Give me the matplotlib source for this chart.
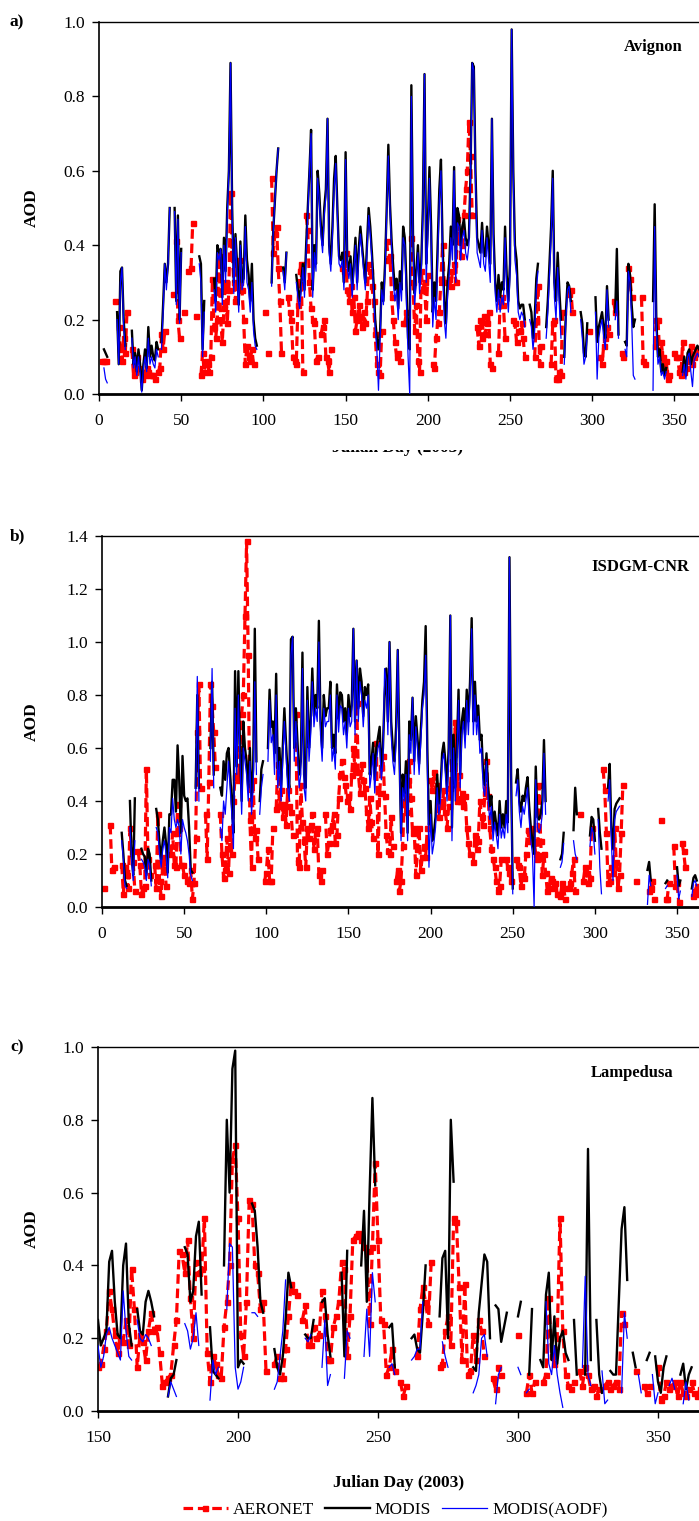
import numpy as np
import matplotlib
matplotlib.use("Agg")
import matplotlib.pyplot as plt
from matplotlib.lines import Line2D
from matplotlib.patches import Rectangle

# ---------------- DATA (start day, daily values) ----------------
avignon_aeronet = [
    (2, [0.09, 0.09, 0.09]), (10, [0.25]), (12, [0.18, 0.12, 0.09, 0.15, 0.11]), (17, [0.22]),
    (20, [0.12, 0.05, 0.06, 0.10, 0.07]), (26, [0.04, 0.06, 0.05, 0.07, 0.06, 0.05, 0.05, 0.05, 0.04]),
    (36, [0.06, 0.07, 0.16, 0.12, 0.17]), (45, [0.27]), (47, [0.41, 0.20, 0.15]), (52, [0.22]),
    (54, [0.33]), (56, [0.34, 0.46]), (59, [0.21]),
    (62, [0.05, 0.11, 0.06, 0.09, 0.08, 0.06, 0.10, 0.31, 0.18, 0.15]),
    (72, [0.20, 0.37, 0.20, 0.14, 0.23, 0.30, 0.19, 0.28, 0.54, 0.38, 0.30, 0.25]),
    (84, [0.35, 0.36, 0.30, 0.28, 0.20, 0.08, 0.13, 0.10, 0.09, 0.12, 0.08]),
    (101, [0.22]), (103, [0.11]), (105, [0.58, 0.38, 0.43, 0.45, 0.34, 0.25, 0.11]),
    (115, [0.26, 0.22, 0.20, 0.10, 0.09, 0.08, 0.24, 0.33, 0.35, 0.06]),
    (126, [0.48, 0.44, 0.30, 0.23, 0.20, 0.19, 0.09, 0.10]),
    (135, [0.16, 0.18, 0.20, 0.10, 0.09, 0.06, 0.12]),
    (148, [0.34, 0.33, 0.38, 0.28, 0.25, 0.29, 0.22, 0.26, 0.17, 0.20, 0.24, 0.21, 0.18, 0.22, 0.19,
           0.25, 0.35, 0.33, 0.29, 0.25, 0.16, 0.08, 0.06, 0.05, 0.17]),
    (175, [0.41, 0.36, 0.37]), (178, [0.26, 0.20, 0.14, 0.10, 0.11, 0.09]), (185, [0.19, 0.19, 0.22]),
    (190, [0.42, 0.30, 0.17]), (193, [0.24, 0.09, 0.06, 0.33, 0.28, 0.30, 0.20, 0.32]),
    (203, [0.08, 0.07, 0.15, 0.19, 0.22, 0.31, 0.40, 0.30]),
    (213, [0.31, 0.29, 0.33, 0.35, 0.30, 0.47, 0.43, 0.37, 0.40, 0.48, 0.55, 0.60, 0.73, 0.64, 0.48]),
    (230, [0.18, 0.13, 0.20, 0.15, 0.21, 0.16, 0.19, 0.22, 0.08, 0.07]),
    (243, [0.11, 0.25, 0.26, 0.24, 0.15]), (252, [0.20, 0.19, 0.14, 0.17, 0.17, 0.19, 0.15, 0.10]),
    (265, [0.10, 0.20, 0.29, 0.08, 0.13]), (275, [0.08, 0.19, 0.20, 0.04, 0.04, 0.06, 0.05, 0.22]),
    (286, [0.27, 0.28, 0.22]), (298, [0.17]), (305, [0.10, 0.08, 0.13, 0.15, 0.18, 0.16]),
    (313, [0.25, 0.22]), (318, [0.11, 0.10]), (322, [0.34, 0.31, 0.26]), (330, [0.26, 0.09, 0.08]),
    (338, [0.13, 0.20, 0.20, 0.11, 0.14, 0.10, 0.06, 0.09, 0.04, 0.05]),
    (350, [0.11, 0.10, 0.10, 0.06, 0.05, 0.14, 0.06, 0.07, 0.09, 0.10, 0.13, 0.08, 0.10, 0.12, 0.11]),
]
avignon_modis = [
    (3, [0.12, 0.11, 0.10]), (11, [0.22, 0.08, 0.33, 0.34, 0.20, 0.13]),
    (20, [0.17, 0.08, 0.11, 0.06, 0.12, 0.08, 0.01, 0.08, 0.12, 0.07, 0.18, 0.10, 0.13, 0.10, 0.09, 0.14, 0.12]),
    (38, [0.14, 0.24, 0.35, 0.30, 0.35, 0.50]), (46, [0.50, 0.25, 0.48, 0.20, 0.39]),
    (61, [0.37, 0.35, 0.12, 0.25]),
    (70, [0.31, 0.25, 0.40, 0.38, 0.39, 0.26, 0.42, 0.33, 0.50, 0.60, 0.89, 0.50, 0.30, 0.43, 0.35, 0.24,
          0.41, 0.30, 0.31, 0.48, 0.36, 0.32, 0.25, 0.35, 0.20, 0.15, 0.13]),
    (105, [0.30, 0.44, 0.52, 0.60, 0.66]), (112, [0.34, 0.30, 0.38]),
    (120, [0.32, 0.28, 0.25, 0.30, 0.35, 0.28, 0.40, 0.50, 0.60, 0.71, 0.28, 0.40, 0.35, 0.60, 0.54, 0.45,
           0.40, 0.50, 0.55, 0.74]),
    (140, [0.40, 0.35, 0.45, 0.58, 0.64, 0.50, 0.37, 0.36, 0.38, 0.30, 0.65, 0.36, 0.33, 0.37, 0.28, 0.35,
           0.42, 0.30, 0.39, 0.45, 0.40, 0.35, 0.30, 0.40, 0.50, 0.45, 0.38, 0.30, 0.20, 0.15]),
    (170, [0.12, 0.17, 0.30, 0.25, 0.35, 0.50, 0.67, 0.51, 0.41]),
    (179, [0.34, 0.28, 0.31, 0.23, 0.33, 0.28, 0.45, 0.42, 0.30, 0.15,
           0.12, 0.83, 0.43, 0.27, 0.33, 0.40, 0.30, 0.35, 0.50, 0.86,
           0.35, 0.45, 0.61, 0.45, 0.22, 0.30, 0.25, 0.40, 0.55, 0.63,
           0.40, 0.25, 0.19, 0.30, 0.35, 0.45, 0.40, 0.61, 0.35, 0.50,
           0.48, 0.40, 0.45, 0.47, 0.42, 0.40, 0.42, 0.60, 0.89, 0.88,
           0.60, 0.42, 0.40, 0.38, 0.46, 0.38, 0.37, 0.45, 0.40, 0.35,
           0.74, 0.43, 0.30, 0.25, 0.32, 0.26, 0.30, 0.28, 0.45, 0.32,
           0.25, 0.35, 0.98, 0.60, 0.40, 0.36, 0.25, 0.23, 0.24, 0.24, 0.20]),
    (262, [0.24, 0.22, 0.15, 0.20, 0.31, 0.35]), (272, [0.18, 0.25, 0.35, 0.45, 0.60, 0.30, 0.25, 0.38, 0.28, 0.20]),
    (283, [0.10, 0.22, 0.30, 0.29, 0.25]), (293, [0.22, 0.19, 0.11, 0.10, 0.19]),
    (302, [0.26, 0.14, 0.18, 0.20, 0.22, 0.18, 0.15, 0.29, 0.20]), (314, [0.22, 0.39, 0.16]),
    (320, [0.14, 0.13, 0.35, 0.32, 0.24, 0.18, 0.20]),
    (337, [0.25, 0.51, 0.20, 0.10, 0.12, 0.06, 0.08, 0.05, 0.07]),
    (355, [0.06, 0.10, 0.05, 0.11, 0.12, 0.08, 0.10, 0.11, 0.12, 0.13, 0.12]),
]
avignon_aodf = [
    (3, [0.07, 0.04, 0.03]), (11, [0.20, 0.08, 0.30, 0.34, 0.18, 0.12]),
    (20, [0.15, 0.07, 0.10, 0.05, 0.10, 0.06, 0.005, 0.07, 0.10, 0.06, 0.15, 0.08, 0.10, 0.08, 0.07, 0.12, 0.10]),
    (38, [0.12, 0.22, 0.35, 0.28, 0.35, 0.50]), (46, [0.49, 0.24, 0.47, 0.19, 0.38]),
    (61, [0.35, 0.30, 0.10, 0.22]),
    (70, [0.28, 0.22, 0.38, 0.36, 0.39, 0.24, 0.40, 0.30, 0.48, 0.60, 0.89, 0.48, 0.27, 0.42, 0.32, 0.22,
          0.40, 0.28, 0.30, 0.45, 0.30, 0.28, 0.22, 0.30, 0.17, 0.13, 0.12]),
    (105, [0.29, 0.44, 0.52, 0.60, 0.66]), (112, [0.33, 0.28, 0.38]),
    (120, [0.30, 0.26, 0.23, 0.28, 0.34, 0.26, 0.38, 0.48, 0.60, 0.70, 0.26, 0.38, 0.33, 0.58, 0.52, 0.43,
           0.38, 0.48, 0.53, 0.74]),
    (140, [0.38, 0.33, 0.43, 0.55, 0.62, 0.48, 0.35, 0.34, 0.36, 0.28, 0.63, 0.34, 0.31, 0.35, 0.26, 0.33,
           0.40, 0.28, 0.37, 0.43, 0.38, 0.33, 0.28, 0.38, 0.48, 0.43, 0.36, 0.28, 0.18, 0.12]),
    (170, [0.01, 0.15, 0.28, 0.24, 0.33, 0.48, 0.64, 0.49, 0.39]),
    (179, [0.30, 0.25, 0.28, 0.20, 0.30, 0.25, 0.42, 0.40, 0.25, 0.10,
           0.00, 0.80, 0.40, 0.24, 0.30, 0.38, 0.27, 0.33, 0.48, 0.86,
           0.30, 0.42, 0.58, 0.42, 0.18, 0.26, 0.20, 0.36, 0.52, 0.60,
           0.36, 0.20, 0.15, 0.26, 0.32, 0.42, 0.36, 0.60, 0.30, 0.46,
           0.45, 0.36, 0.42, 0.44, 0.38, 0.36, 0.40, 0.58, 0.89, 0.87,
           0.58, 0.38, 0.36, 0.34, 0.44, 0.35, 0.33, 0.42, 0.36, 0.30,
           0.74, 0.40, 0.27, 0.22, 0.28, 0.22, 0.26, 0.24, 0.42, 0.28,
           0.22, 0.32, 0.98, 0.58, 0.36, 0.32, 0.22, 0.20, 0.22, 0.21, 0.18]),
    (262, [0.20, 0.18, 0.12, 0.17, 0.28, 0.33]), (272, [0.15, 0.22, 0.32, 0.42, 0.58, 0.26, 0.20, 0.34, 0.24, 0.15]),
    (283, [0.08, 0.20, 0.28, 0.29, 0.22]), (293, [0.20, 0.15, 0.08, 0.10, 0.16]),
    (302, [0.22, 0.04, 0.15, 0.18, 0.20, 0.15, 0.12, 0.28, 0.18]), (314, [0.20, 0.25, 0.15]),
    (320, [0.12, 0.10, 0.33, 0.30, 0.20, 0.05, 0.04]),
    (337, [0.01, 0.45, 0.18, 0.08, 0.10, 0.05, 0.06, 0.04, 0.06]),
    (355, [0.05, 0.08, 0.04, 0.10, 0.11, 0.06, 0.02, 0.09, 0.10, 0.11, 0.10]),
]

isdgm_aeronet = [
    (1, [0.07]), (5, [0.31, 0.14, 0.15]), (12, [0.16, 0.05, 0.15, 0.12, 0.07, 0.30, 0.21, 0.17, 0.06]),
    (22, [0.21, 0.16, 0.05, 0.07, 0.08, 0.52, 0.18, 0.12]), (32, [0.16, 0.07, 0.35, 0.10, 0.04, 0.17, 0.19, 0.08]),
    (42, [0.20, 0.28, 0.16, 0.15, 0.39, 0.30, 0.16, 0.16, 0.12]),
    (52, [0.10, 0.09, 0.14, 0.03, 0.09, 0.26, 0.66, 0.84, 0.45]),
    (63, [0.35, 0.18, 0.47, 0.84, 0.76, 0.66, 0.53]),
    (72, [0.35, 0.20, 0.11, 0.14, 0.26, 0.13, 0.30, 0.20, 0.40, 0.49, 0.50, 0.48, 0.60, 0.73, 0.80, 1.10,
          1.38, 0.95, 0.33, 0.15, 0.48, 0.26, 0.29, 0.18]),
    (99, [0.10, 0.13, 0.22, 0.10, 0.10, 0.30]),
    (106, [0.37, 0.54, 0.38, 0.44, 0.34, 0.39, 0.31, 0.44, 0.38, 0.36, 0.27]),
    (118, [0.73, 0.17, 0.15, 0.46, 0.32, 0.25, 0.15, 0.30, 0.26, 0.31, 0.35, 0.22, 0.28, 0.30, 0.12, 0.10, 0.14]),
    (136, [0.35, 0.20, 0.24, 0.29, 0.31, 0.35, 0.24, 0.27, 0.41, 0.50, 0.55, 0.49, 0.46, 0.40, 0.42, 0.37,
           0.50, 0.60, 0.52, 0.77, 0.51, 0.43, 0.54, 0.48, 0.45, 0.36, 0.30, 0.41, 0.32, 0.26]),
    (167, [0.62, 0.20, 0.43, 0.53, 0.57, 0.42, 0.27, 0.21, 0.20, 0.34, 0.23]),
    (179, [0.10, 0.14, 0.06, 0.10, 0.23, 0.40, 0.36, 0.48, 0.55, 0.41, 0.28, 0.30, 0.12, 0.22, 0.30, 0.14,
           0.19, 0.23, 0.19, 0.30]),
    (200, [0.48, 0.44, 0.51, 0.44, 0.46, 0.34, 0.40, 0.38, 0.44, 0.36, 0.30, 0.38, 0.45, 0.55, 0.48, 0.70,
           0.40, 0.50, 0.40, 0.43, 0.38, 0.42, 0.30, 0.24, 0.20]),
    (226, [0.17, 0.27, 0.22, 0.25, 0.40, 0.34, 0.31, 0.43, 0.55, 0.42, 0.30, 0.22, 0.18, 0.15, 0.10, 0.06, 0.08, 0.18]),
    (246, [0.18, 0.15, 0.13, 0.10]),
    (252, [0.18, 0.16, 0.15, 0.08, 0.12, 0.11, 0.20, 0.29, 0.25, 0.27, 0.30, 0.25, 0.20, 0.18, 0.46, 0.25,
           0.12, 0.20, 0.13, 0.06, 0.07]),
    (273, [0.11, 0.10, 0.07, 0.09, 0.05, 0.05, 0.04, 0.09, 0.07, 0.03]),
    (284, [0.07, 0.09, 0.13, 0.18, 0.06]), (291, [0.35]), (293, [0.10, 0.15, 0.13, 0.09, 0.11, 0.30]),
    (305, [0.52, 0.44, 0.28, 0.09, 0.10, 0.15, 0.13, 0.30, 0.17, 0.07, 0.12, 0.28, 0.46]),
    (325, [0.10]), (333, [0.06, 0.07, 0.10, 0.03]), (340, [0.33]), (343, [0.03, 0.03, 0.09]),
    (348, [0.23, 0.08, 0.09, 0.02]), (353, [0.24, 0.21, 0.15]), (360, [0.04, 0.06, 0.08, 0.05]),
]
isdgm_modis = [
    (12, [0.28, 0.20, 0.10, 0.08]), (17, [0.40, 0.20, 0.12, 0.41]), (24, [0.22, 0.20, 0.19, 0.12, 0.22, 0.20, 0.10]),
    (33, [0.37, 0.33, 0.24, 0.18, 0.25, 0.30, 0.24, 0.13, 0.35, 0.35, 0.48, 0.48, 0.36, 0.61, 0.48, 0.28,
          0.57, 0.42, 0.40, 0.41, 0.30, 0.14, 0.13]),
    (57, [0.45, 0.80, 0.45]), (66, [0.60, 0.85, 0.50]),
    (72, [0.45, 0.42, 0.55, 0.48, 0.58, 0.60, 0.50, 0.40, 0.28, 0.89, 0.53, 0.89, 0.60, 0.40, 0.70, 0.60,
          0.55, 0.45, 0.60, 0.40, 0.52, 1.05, 0.55]),
    (96, [0.40, 0.52, 0.55]),
    (101, [0.60, 0.82, 0.68, 0.70, 0.58, 0.88, 0.52, 0.60, 0.45, 0.60, 0.75, 0.62, 0.50, 0.45, 1.01, 1.02,
           0.60, 0.75, 0.62, 0.50, 0.55, 0.96, 0.50, 0.45, 0.83, 0.60, 0.70, 0.90, 0.72, 0.80, 0.75, 1.08, 0.70]),
    (134, [0.60, 0.80, 0.72, 0.75, 0.75, 0.85, 0.60, 0.65, 0.58, 0.84,
           0.71, 0.81, 0.80, 0.70, 0.75, 0.65, 0.80, 0.72, 0.76, 1.05,
           0.70, 0.93, 0.75, 0.90, 0.85, 0.72, 0.83, 0.80, 0.84, 0.50,
           0.55, 0.62, 0.48, 0.60, 0.64, 0.68, 0.52, 0.60, 0.80, 0.90,
           0.70, 1.00, 0.70, 0.60, 0.55, 0.68, 0.97, 0.60, 0.28, 0.50,
           0.43, 0.55, 0.28,
           0.70, 0.63, 0.79, 0.55, 0.72, 0.64, 0.54, 0.66, 0.78, 0.85,
           1.06, 0.60, 0.31, 0.40, 0.25, 0.28, 0.34, 0.50, 0.39, 0.44,
           0.58, 0.62, 0.55, 0.45, 0.60, 1.10, 0.30, 0.65, 0.45, 0.60,
           0.82, 0.50, 0.70, 0.75, 0.65, 0.82, 0.70, 0.85, 1.09, 0.70,
           0.85, 0.70, 0.76, 0.63, 0.65, 0.50, 0.46, 0.58, 0.45, 0.38,
           0.42, 0.29, 0.36, 0.31, 0.27, 0.40, 0.30, 0.35, 0.30, 0.40,
           0.32, 1.32, 0.50, 0.07]),
    (252, [0.47, 0.52, 0.40, 0.36, 0.42, 0.40, 0.45, 0.49, 0.38, 0.30, 0.25, 0.20, 0.53, 0.34, 0.33, 0.35,
           0.40, 0.63, 0.40]),
    (279, [0.18, 0.20, 0.28]), (287, [0.29, 0.45, 0.35]), (297, [0.27, 0.34, 0.33, 0.25]), (302, [0.37, 0.28, 0.22]),
    (308, [0.45, 0.54, 0.30, 0.22, 0.37, 0.39, 0.40, 0.41]), (332, [0.14, 0.17, 0.10]), (343, [0.09, 0.10]),
    (350, [0.15, 0.08, 0.10]), (359, [0.07, 0.11, 0.12, 0.10]),
]
isdgm_aodf = [
    (12, [0.25, 0.18, 0.08, 0.07]), (17, [0.30, 0.18, 0.10, 0.25]), (24, [0.18, 0.17, 0.15, 0.10, 0.18, 0.16, 0.08]),
    (33, [0.30, 0.28, 0.20, 0.15, 0.22, 0.25, 0.20, 0.11, 0.30, 0.28, 0.41, 0.33, 0.30, 0.33, 0.30, 0.20,
          0.33, 0.30, 0.28, 0.25, 0.20, 0.12, 0.10]),
    (57, [0.40, 0.87, 0.40]), (66, [0.55, 0.90, 0.45]),
    (72, [0.30, 0.25, 0.40, 0.35, 0.45, 0.55, 0.45, 0.35, 0.22, 0.75, 0.50, 0.80, 0.55, 0.35, 0.60, 0.55,
          0.50, 0.40, 0.55, 0.35, 0.45, 0.85, 0.50]),
    (96, [0.35, 0.45, 0.50]),
    (101, [0.55, 0.78, 0.62, 0.65, 0.50, 0.80, 0.45, 0.55, 0.40, 0.55, 0.70, 0.58, 0.45, 0.40, 0.95, 1.02,
           0.55, 0.70, 0.58, 0.45, 0.50, 0.90, 0.45, 0.40, 0.78, 0.55, 0.65, 0.85, 0.68, 0.75, 0.70, 1.00, 0.65]),
    (134, [0.55, 0.75, 0.68, 0.70, 0.70, 0.80, 0.55, 0.60, 0.52, 0.80,
           0.66, 0.76, 0.75, 0.65, 0.70, 0.60, 0.75, 0.68, 0.70, 1.05,
           0.65, 0.93, 0.70, 0.85, 0.80, 0.68, 0.78, 0.75, 0.80, 0.45,
           0.50, 0.58, 0.43, 0.55, 0.60, 0.62, 0.48, 0.55, 0.90, 0.85,
           0.65, 1.00, 0.65, 0.55, 0.50, 0.62, 0.97, 0.55, 0.25, 0.45,
           0.40, 0.50, 0.25,
           0.65, 0.58, 0.79, 0.50, 0.68, 0.60, 0.50, 0.62, 0.75, 0.80,
           0.95, 0.55, 0.15, 0.35, 0.20, 0.24, 0.30, 0.45, 0.35, 0.40,
           0.55, 0.58, 0.50, 0.40, 0.55, 1.10, 0.25, 0.60, 0.40, 0.55,
           0.78, 0.45, 0.65, 0.70, 0.60, 0.78, 0.65, 0.80, 1.05, 0.65,
           0.80, 0.65, 0.72, 0.58, 0.60, 0.45, 0.42, 0.55, 0.40, 0.33,
           0.38, 0.25, 0.32, 0.27, 0.22, 0.35, 0.26, 0.30, 0.26, 0.35,
           0.28, 1.32, 0.45, 0.05]),
    (252, [0.42, 0.48, 0.36, 0.30, 0.38, 0.35, 0.40, 0.45, 0.33, 0.25, 0.20, 0.00, 0.48, 0.30, 0.28, 0.30,
           0.35, 0.58, 0.35]),
    (279, [0.15, 0.17, 0.24]), (287, [0.25, 0.20, 0.18]), (297, [0.23, 0.30, 0.28, 0.20]), (302, [0.33, 0.15, 0.05]),
    (308, [0.40, 0.48, 0.25, 0.10, 0.33, 0.36, 0.37, 0.38]), (332, [0.01, 0.12, 0.08]), (343, [0.07, 0.08]),
    (350, [0.12, 0.03, 0.06]), (359, [0.04, 0.09, 0.10, 0.08]),
]

lamp_aeronet = [
    (150, [0.12, 0.13, 0.17, 0.22, 0.33, 0.28, 0.21, 0.16, 0.20, 0.19, 0.25, 0.18, 0.39, 0.28, 0.12, 0.21,
           0.19, 0.14, 0.22, 0.27, 0.22, 0.23]),
    (172, [0.16, 0.07, 0.08, 0.09, 0.10, 0.18, 0.25, 0.44, 0.43, 0.38, 0.47, 0.31, 0.20, 0.41, 0.38, 0.39, 0.53, 0.16]),
    (190, [0.08, 0.15, 0.13, 0.10, 0.09, 0.23, 0.30, 0.40, 0.69, 0.73, 0.53, 0.21, 0.15, 0.30, 0.58, 0.57,
           0.40, 0.38, 0.28, 0.30, 0.11]),
    (213, [0.13, 0.15, 0.09, 0.09, 0.17, 0.26, 0.35, 0.33, 0.32]),
    (223, [0.25, 0.29, 0.18, 0.18, 0.23, 0.20, 0.21, 0.33, 0.26, 0.14]),
    (233, [0.14, 0.23, 0.26, 0.30, 0.41, 0.39, 0.15, 0.26, 0.47, 0.48, 0.49, 0.47, 0.45, 0.44, 0.24, 0.45,
           0.68, 0.47, 0.25, 0.24, 0.10, 0.12, 0.17, 0.11]),
    (258, [0.08, 0.04, 0.07]), (264, [0.15, 0.28, 0.34, 0.30, 0.24, 0.41]),
    (272, [0.12, 0.13, 0.22, 0.26, 0.18, 0.53, 0.52, 0.34]),
    (280, [0.14, 0.35, 0.10, 0.11, 0.21, 0.14, 0.25, 0.22, 0.15]), (291, [0.09, 0.06, 0.12, 0.10]),
    (300, [0.21]), (303, [0.05, 0.10, 0.05, 0.08]),
    (309, [0.08, 0.10, 0.31, 0.15, 0.13, 0.20, 0.53, 0.22, 0.10, 0.07, 0.06, 0.08]),
    (322, [0.11, 0.07, 0.12, 0.10, 0.06, 0.07, 0.04, 0.06]),
    (331, [0.07, 0.08, 0.06, 0.07, 0.08, 0.06, 0.27, 0.24]), (342, [0.11]), (345, [0.07, 0.05, 0.07]),
    (350, [0.12, 0.03, 0.04, 0.08, 0.06, 0.07, 0.08, 0.04, 0.08, 0.05, 0.04, 0.06, 0.08, 0.05, 0.04, 0.06]),
]
lamp_modis = [
    (150, [0.25, 0.18, 0.20, 0.22, 0.41, 0.44, 0.30, 0.21, 0.20, 0.40, 0.46, 0.24, 0.18]),
    (164, [0.28, 0.22, 0.21, 0.30, 0.33, 0.30, 0.26]), (175, [0.04, 0.09, 0.10, 0.14]),
    (181, [0.45, 0.43, 0.30, 0.33, 0.48, 0.52, 0.32]), (190, [0.23, 0.11, 0.10, 0.09]),
    (195, [0.40, 0.80, 0.60, 0.94, 0.99, 0.12, 0.14, 0.13]), (205, [0.57, 0.55, 0.45, 0.30, 0.27]),
    (213, [0.17, 0.12, 0.10, 0.15, 0.25, 0.38, 0.34]), (221, [0.33]), (224, [0.21, 0.20, 0.20, 0.25]),
    (230, [0.30, 0.31, 0.21, 0.15]), (237, [0.38, 0.15, 0.44]), (244, [0.40, 0.55, 0.30, 0.60, 0.86, 0.62]),
    (254, [0.23, 0.24, 0.12]), (262, [0.20, 0.21, 0.17, 0.16, 0.27, 0.40]),
    (272, [0.26, 0.42, 0.44, 0.20, 0.80, 0.63]), (284, [0.12, 0.11, 0.27, 0.35, 0.43, 0.41, 0.20]),
    (292, [0.29, 0.28, 0.19, 0.23, 0.27]), (300, [0.26, 0.30]), (304, [0.10, 0.28]),
    (308, [0.14, 0.12, 0.32, 0.38, 0.14, 0.26, 0.13, 0.20, 0.22, 0.16, 0.14]), (320, [0.25, 0.10]),
    (324, [0.10, 0.72, 0.14]), (328, [0.25, 0.10, 0.05]), (333, [0.11, 0.10, 0.10, 0.30, 0.50, 0.56, 0.36]),
    (341, [0.16, 0.12]), (346, [0.14, 0.16]), (349, [0.15, 0.08, 0.05, 0.12, 0.15]),
    (358, [0.10, 0.13, 0.06, 0.10, 0.12]),
]
lamp_aodf = [
    (150, [0.18, 0.12, 0.15, 0.21, 0.23, 0.20, 0.18, 0.16, 0.14, 0.33, 0.22, 0.15, 0.14]),
    (164, [0.25, 0.20, 0.19, 0.21, 0.20, 0.18]), (175, [0.04, 0.08, 0.06, 0.04]),
    (181, [0.24, 0.22, 0.17, 0.20, 0.27, 0.18]), (190, [0.03, 0.14, 0.10, 0.12]),
    (196, [0.28, 0.46, 0.45, 0.12, 0.06, 0.08, 0.12]), (205, [0.27, 0.27, 0.26]),
    (213, [0.06, 0.08, 0.15, 0.22, 0.36]), (221, [0.31]), (224, [0.20, 0.19, 0.21]),
    (230, [0.12, 0.25, 0.07, 0.10]), (238, [0.09, 0.22, 0.20]), (245, [0.15, 0.28, 0.15, 0.38, 0.30]),
    (254, [0.12, 0.13, 0.10]), (262, [0.14, 0.15, 0.17, 0.17, 0.30]), (273, [0.19, 0.15, 0.12]),
    (284, [0.05, 0.07, 0.10, 0.20, 0.21, 0.15]), (292, [0.02, 0.10, 0.12]), (300, [0.12, 0.10]),
    (303, [0.05, 0.06]), (310, [0.30, 0.13, 0.10, 0.18, 0.10, 0.05, 0.01]), (323, [0.12, 0.37, 0.10, 0.07]),
    (330, [0.11, 0.02, 0.03]), (337, [0.05, 0.27, 0.20]), (343, [0.10, 0.05]), (348, [0.10, 0.02, 0.05]),
    (354, [0.07, 0.09, 0.06]), (359, [0.02, 0.08, 0.03]),
]

station_names = ["Avignon", "ISDGM-CNR", "Lampedusa"]
panel_letters = ["a)", "b)", "c)"]
series_names = ["AERONET", "MODIS", "MODIS(AODF)"]
x_label = "Julian Day (2003)"
y_label = "AOD"


def build(segments, first=1, last=365):
    days = np.arange(first, last + 1)
    vals = np.full(days.shape, np.nan)
    for start, seq in segments:
        for i, v in enumerate(seq):
            d = start + i
            if first <= d <= last:
                vals[d - first] = v
    return days, vals


plt.rcParams['font.family'] = ['Liberation Serif', 'DejaVu Serif']
W, H = 699, 1521
fig = plt.figure(figsize=(W / 100, H / 100), dpi=100)


def fx(px):
    return px / W


def fy(py):
    return 1 - py / H


panels = [
    dict(left=99, top=22, bottom=394, xmin=0, xmax=365, ppd=1.644, ymax=1.0,
         data=(avignon_aeronet, avignon_modis, avignon_aodf), xt=np.arange(0, 351, 50),
         name_xy=(653, 47)),
    dict(left=102, top=536, bottom=907, xmin=0, xmax=365, ppd=1.643, ymax=1.4,
         data=(isdgm_aeronet, isdgm_modis, isdgm_aodf), xt=np.arange(0, 351, 50),
         name_xy=(640, 567)),
    dict(left=98, top=1047, bottom=1411, xmin=150, xmax=365, ppd=2.8, ymax=1.0,
         data=(lamp_aeronet, lamp_modis, lamp_aodf), xt=np.arange(150, 351, 50),
         name_xy=(632, 1073)),
]

dash = (0, (3, 1.5))
for k, p in enumerate(panels):
    width_px = (p['xmax'] - p['xmin']) * p['ppd']
    ax = fig.add_axes([fx(p['left']), fy(p['bottom']), width_px / W, (p['bottom'] - p['top']) / H])
    aer, mod, aodf = p['data']
    first = 1 if p['xmin'] == 0 else p['xmin']
    d, v = build(aer, first)
    ax.plot(d, v, color='#ff0000', lw=2.3, ls=dash, marker='s', ms=3.6, mfc='#ff0000', mec='#ff0000', zorder=2)
    d, v = build(mod, first)
    ax.plot(d, v, color='black', lw=1.7, zorder=3)
    d, v = build(aodf, first)
    ax.plot(d, v, color='#0000ff', lw=0.9, zorder=4)
    ax.set_xlim(p['xmin'], p['xmax'])
    ax.set_ylim(0, p['ymax'])
    ax.set_xticks(p['xt'])
    ax.set_yticks(np.arange(0, p['ymax'] + 0.01, 0.2))
    ax.yaxis.set_major_formatter(matplotlib.ticker.FormatStrFormatter('%.1f'))
    ax.tick_params(axis='both', direction='out', length=5, width=1, labelsize=12.5, colors='black')
    ax.tick_params(axis='x', pad=9)
    ax.tick_params(axis='y', pad=5)
    ax.spines['right'].set_visible(False)
    ax.spines['top'].set_linewidth(1.0)
    ax.spines['bottom'].set_linewidth(2.0)
    ax.spines['left'].set_linewidth(1.2)
    ax.set_ylabel(y_label, fontweight='bold', fontsize=12.5)
    ax.yaxis.set_label_coords((40 - p['left']) / width_px, 0.5)
    fig.text(fx(p['name_xy'][0]), fy(p['name_xy'][1]), station_names[k],
             ha='center', va='center', fontsize=12, fontweight='bold')
    fig.text(fx(10), fy(p['top']), panel_letters[k], ha='left', va='center', fontsize=12.5, fontweight='bold')

# x label under panel a, almost completely hidden (only its bottom edge shows)
fig.text(fx(398), fy(451.5), x_label, ha='center', va='baseline', fontsize=12.5, fontweight='bold')
fig.patches.append(Rectangle((0, fy(450.5)), 1, fy(428) - fy(450.5), transform=fig.transFigure,
                             facecolor='white', edgecolor='none', zorder=10))

fig.text(fx(399), fy(1483), x_label, ha='center', va='center', fontsize=12.5, fontweight='bold')

aer_handle = Line2D([0, 1, 2], [0, 0, 0], color='#ff0000', lw=2.3, ls=dash, marker='s', ms=3.6, markevery=[1])
handles = [
    aer_handle,
    Line2D([], [], color='black', lw=1.7),
    Line2D([], [], color='#0000ff', lw=0.9),
]
fig.legend(handles, series_names, loc='center', bbox_to_anchor=(fx(395), fy(1510)), ncol=3, frameon=False,
           fontsize=12.5, handlelength=2.6, columnspacing=0.6, handletextpad=0.3, borderaxespad=0)

fig.savefig('out.png', dpi=100)
